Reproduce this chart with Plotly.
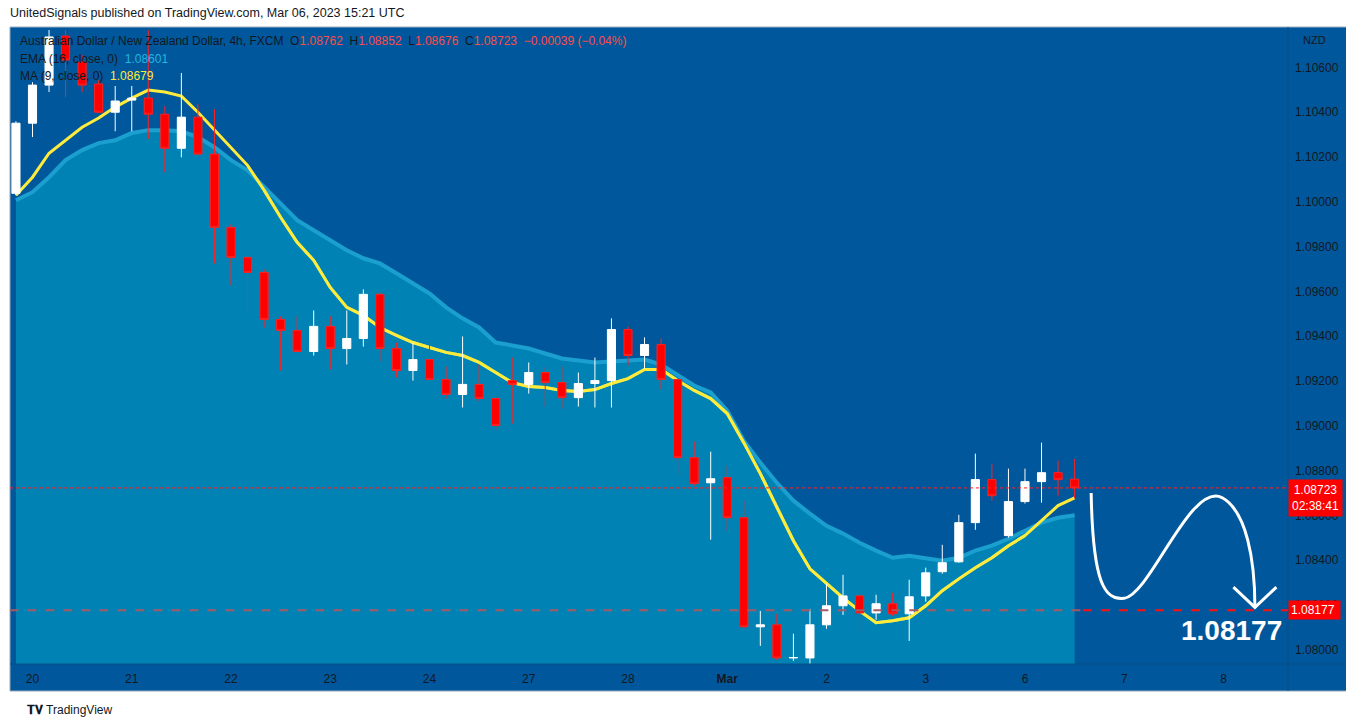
import plotly.graph_objects as go

opens  = [1.10038,1.10351,1.10521,1.10740,1.10624,1.10526,1.10400,1.10454,1.10463,1.10391,
          1.10239,1.10378,1.10213,1.09886,1.09752,1.09685,1.09475,1.09426,1.09332,1.09444,
          1.09345,1.09390,1.09587,1.09345,1.09247,1.09296,1.09207,1.09140,1.09185,1.09122,
          1.09202,1.09185,1.09238,1.09193,1.09126,1.09189,1.09202,1.09430,1.09314,1.09363,
          1.09207,1.08858,1.08746,1.08769,1.08590,1.08103,1.08112,1.07964,1.07964,1.08112,
          1.08197,1.08241,1.08165,1.08206,1.08161,1.08241,1.08349,1.08393,1.08568,1.08760,
          1.08510,1.08662,1.08751,1.08791,1.08762]
highs  = [1.10360,1.10534,1.10767,1.10776,1.10655,1.10543,1.10517,1.10517,1.10767,1.10427,
          1.10575,1.10436,1.10414,1.09900,1.09775,1.09699,1.09489,1.09489,1.09515,1.09489,
          1.09515,1.09609,1.09596,1.09372,1.09372,1.09372,1.09265,1.09399,1.09274,1.09135,
          1.09305,1.09283,1.09261,1.09265,1.09238,1.09305,1.09480,1.09444,1.09395,1.09390,
          1.09211,1.08930,1.08885,1.08822,1.08666,1.08174,1.08161,1.08072,1.08183,1.08295,
          1.08335,1.08255,1.08246,1.08255,1.08313,1.08367,1.08469,1.08603,1.08876,1.08831,
          1.08809,1.08809,1.08925,1.08845,1.08852]
lows   = [1.10029,1.10289,1.10490,1.10467,1.10490,1.10396,1.10315,1.10315,1.10280,1.10132,
          1.10199,1.10208,1.09725,1.09627,1.09502,1.09439,1.09247,1.09328,1.09314,1.09252,
          1.09274,1.09354,1.09287,1.09216,1.09202,1.09185,1.09122,1.09082,1.09109,1.08979,
          1.09010,1.09144,1.09086,1.09077,1.09086,1.09082,1.09082,1.09269,1.09256,1.09162,
          1.08778,1.08733,1.08492,1.08532,1.08094,1.08018,1.07955,1.07951,1.07937,1.08094,
          1.08156,1.08080,1.08134,1.08152,1.08040,1.08215,1.08340,1.08389,1.08536,1.08666,
          1.08501,1.08653,1.08657,1.08688,1.08676]
closes = [1.10351,1.10521,1.10736,1.10633,1.10521,1.10400,1.10450,1.10463,1.10391,1.10239,
          1.10378,1.10213,1.09886,1.09752,1.09685,1.09475,1.09426,1.09332,1.09444,1.09345,
          1.09390,1.09587,1.09345,1.09247,1.09296,1.09207,1.09140,1.09185,1.09122,1.09001,
          1.09185,1.09238,1.09193,1.09126,1.09189,1.09202,1.09430,1.09314,1.09363,1.09207,
          1.08858,1.08742,1.08764,1.08590,1.08103,1.08112,1.07964,1.07966,1.08112,1.08197,
          1.08241,1.08165,1.08206,1.08161,1.08237,1.08344,1.08389,1.08568,1.08760,1.08688,
          1.08662,1.08751,1.08791,1.08760,1.08723]
ema16 = [1.10007,1.10043,1.10110,1.10186,1.10231,1.10262,1.10275,1.10307,1.10320,1.10320,
         1.10315,1.10289,1.10244,1.10186,1.10141,1.10065,1.09994,1.09918,1.09873,1.09828,
         1.09784,1.09748,1.09725,1.09681,1.09636,1.09591,1.09529,1.09480,1.09439,1.09372,
         1.09359,1.09345,1.09323,1.09301,1.09292,1.09283,1.09287,1.09292,1.09296,1.09274,
         1.09229,1.09180,1.09149,1.09068,1.08934,1.08836,1.08746,1.08666,1.08608,1.08554,
         1.08519,1.08478,1.08443,1.08411,1.08420,1.08407,1.08398,1.08411,1.08443,1.08465,
         1.08496,1.08532,1.08568,1.08590,1.08601]
ma9 = [1.10029,1.10110,1.10217,1.10275,1.10333,1.10374,1.10423,1.10463,1.10499,1.10490,
       1.10472,1.10400,1.10320,1.10239,1.10163,1.10052,1.09931,1.09819,1.09739,1.09618,
       1.09529,1.09493,1.09439,1.09404,1.09372,1.09350,1.09328,1.09314,1.09283,1.09238,
       1.09193,1.09176,1.09171,1.09158,1.09153,1.09162,1.09189,1.09211,1.09252,1.09252,
       1.09202,1.09158,1.09122,1.09055,1.08925,1.08787,1.08635,1.08487,1.08362,1.08295,
       1.08232,1.08174,1.08121,1.08130,1.08143,1.08197,1.08264,1.08317,1.08367,1.08411,
       1.08465,1.08510,1.08577,1.08644,1.08679]
day_ticks = [1, 7, 13, 19, 25, 31, 37, 43, 49, 55, 61, 67, 73]
day_labels = ["20", "21", "22", "23", "24", "27", "28", "<b>Mar</b>", "2", "3", "6", "7", "8"]
y_ticks = [1.080, 1.082, 1.084, 1.086, 1.088, 1.090, 1.092, 1.094, 1.096, 1.098, 1.100, 1.102, 1.104, 1.106]
last_price = 1.08723
target = 1.08177

idx = list(range(len(opens)))
BG = "#01579b"
FONT = "Liberation Sans"
XR = [-0.36, 76.9]
YR = [1.07937, 1.10767]

fig = go.Figure()
fig.add_trace(go.Scatter(x=idx, y=ema16, mode="lines", line=dict(color="#1a9fcf", width=4),
                         fill="tozeroy", fillcolor="#0083b4", hoverinfo="skip"))
ma_y = [v if v > e else None for v, e in zip(ma9, ema16)]
ma_g = [v if v <= e else None for v, e in zip(ma9, ema16)]
for i in range(1, len(ma9)):
    if (ma_y[i] is None) != (ma_y[i-1] is None):
        ma_y[i] = ma9[i]
        ma_g[i] = ma9[i]
fig.add_trace(go.Scatter(x=idx, y=ma_g, mode="lines", line=dict(color="#a8d67a", width=3), hoverinfo="skip"))
fig.add_trace(go.Scatter(x=idx, y=ma_y, mode="lines", line=dict(color="#ffeb3b", width=3), hoverinfo="skip"))
fig.add_trace(go.Candlestick(x=idx, open=opens, high=highs, low=lows, close=closes,
                             xaxis="x2", yaxis="y2",
                             increasing=dict(fillcolor="#ffffff", line=dict(color="#ffffff", width=1)),
                             decreasing=dict(fillcolor="#ff0000", line=dict(color="#ff2020", width=1)),
                             whiskerwidth=0))

n = len(opens)
shapes = [
    dict(type="rect", xref="paper", yref="paper", x0=0, x1=1.052, y0=-0.0426, y1=1.0047,
         fillcolor=BG, line=dict(color="#9ab", width=1), layer="below"),
    dict(type="line", xref="paper", yref="paper", x0=1, x1=1, y0=-0.0426, y1=1.0047,
         line=dict(color="#0b4f86", width=1)),
    dict(type="line", xref="paper", yref="paper", x0=0, x1=1.052, y0=0, y1=0,
         line=dict(color="#0b4f86", width=1)),
    dict(type="line", xref="paper", yref="y", x0=0, x1=1, y0=last_price, y1=last_price,
         line=dict(color="#ff2020", width=1, dash="dot")),
    dict(type="line", xref="x", yref="y", x0=-0.4, x1=n - 0.5, y0=target, y1=target,
         line=dict(color="#a45a66", width=2, dash="dash")),
    dict(type="line", xref="x", yref="y", x0=n - 0.5, x1=77, y0=target, y1=target,
         line=dict(color="#ff1010", width=2, dash="dash")),
    dict(type="path", xref="x", yref="y",
         path="M 65.0,1.0870 C 65.1,1.0830 65.8,1.0822 67.0,1.0823 C 68.6,1.0825 71.0,1.0875 72.9,1.0868 "
              "C 74.4,1.0862 74.9,1.0840 74.9,1.0819",
         line=dict(color="white", width=3)),
    dict(type="path", xref="x", yref="y",
         path="M 73.6,1.0828 L 74.9,1.0819 L 76.2,1.0828",
         line=dict(color="white", width=3)),
]

ann = [
    dict(xref="paper", yref="paper", x=-0.0016, y=1.027, xanchor="left", yanchor="middle", showarrow=False,
         text="UnitedSignals published on TradingView.com, Mar 06, 2023 15:21 UTC",
         font=dict(size=12.5, color="#131722", family=FONT)),
    dict(xref="paper", yref="paper", x=0.006, y=0.982, xanchor="left", yanchor="middle", showarrow=False,
         text="Australian Dollar / New Zealand Dollar, 4h, FXCM  O<span style='color:#ff4a4a'>1.08762</span>"
              "  H<span style='color:#ff4a4a'>1.08852</span>  L<span style='color:#ff4a4a'>1.08676</span>"
              "  C<span style='color:#ff4a4a'>1.08723</span>  <span style='color:#ff4a4a'>−0.00039 (−0.04%)</span>",
         font=dict(size=12, color="#131722", family=FONT)),
    dict(xref="paper", yref="paper", x=0.006, y=0.955, xanchor="left", yanchor="middle", showarrow=False,
         text="EMA (16, close, 0)  <span style='color:#1fb8e0'>1.08601</span>",
         font=dict(size=12, color="#131722", family=FONT)),
    dict(xref="paper", yref="paper", x=0.006, y=0.927, xanchor="left", yanchor="middle", showarrow=False,
         text="MA (9, close, 0)  <span style='color:#ffeb3b'>1.08679</span>",
         font=dict(size=12, color="#131722", family=FONT)),
    dict(xref="paper", yref="paper", x=1.01, y=0.984, xanchor="left", yanchor="middle", showarrow=False,
         text="NZD", font=dict(size=11, color="#131722", family=FONT)),
    dict(xref="paper", yref="y", x=1.0, y=last_price, xanchor="left", yanchor="top", showarrow=False,
         text="1.08723<br>02:38:41", bgcolor="#ff0000", font=dict(size=12, color="white", family=FONT),
         borderpad=3, yshift=9, align="center"),
    dict(xref="paper", yref="y", x=1.0, y=target, xanchor="left", yanchor="middle", showarrow=False,
         text="1.08177 ", bgcolor="#ff0000", font=dict(size=12, color="white", family=FONT), borderpad=2),
    dict(xref="x", yref="y", x=73.5, y=1.08085, showarrow=False, text="<b>1.08177</b>",
         font=dict(size=28, color="white", family=FONT)),
    dict(xref="paper", yref="paper", x=0.012, y=-0.072, xanchor="left", yanchor="middle", showarrow=False,
         text="<b>𝐓𝐕</b> TradingView", font=dict(size=12, color="#131722", family=FONT)),
]

fig.update_layout(
    width=1346, height=719, margin=dict(l=2, r=66, t=22, b=63),
    paper_bgcolor="white", plot_bgcolor="rgba(0,0,0,0)",
    showlegend=False, shapes=shapes, annotations=ann,
    xaxis=dict(range=XR, tickvals=day_ticks, ticktext=day_labels, showgrid=False,
               zeroline=False, ticks="", ticklabelstandoff=6,
               tickfont=dict(size=12, color="#131722", family=FONT)),
    yaxis=dict(range=YR, side="right", tickvals=y_ticks, tickformat=".5f",
               showgrid=False, zeroline=False, ticks="", ticklabelstandoff=6,
               tickfont=dict(size=12, color="#131722", family=FONT)),
    xaxis2=dict(range=XR, overlaying="x", visible=False, rangeslider=dict(visible=False)),
    yaxis2=dict(range=YR, overlaying="y", visible=False),
)
fig.write_html("out.html")
